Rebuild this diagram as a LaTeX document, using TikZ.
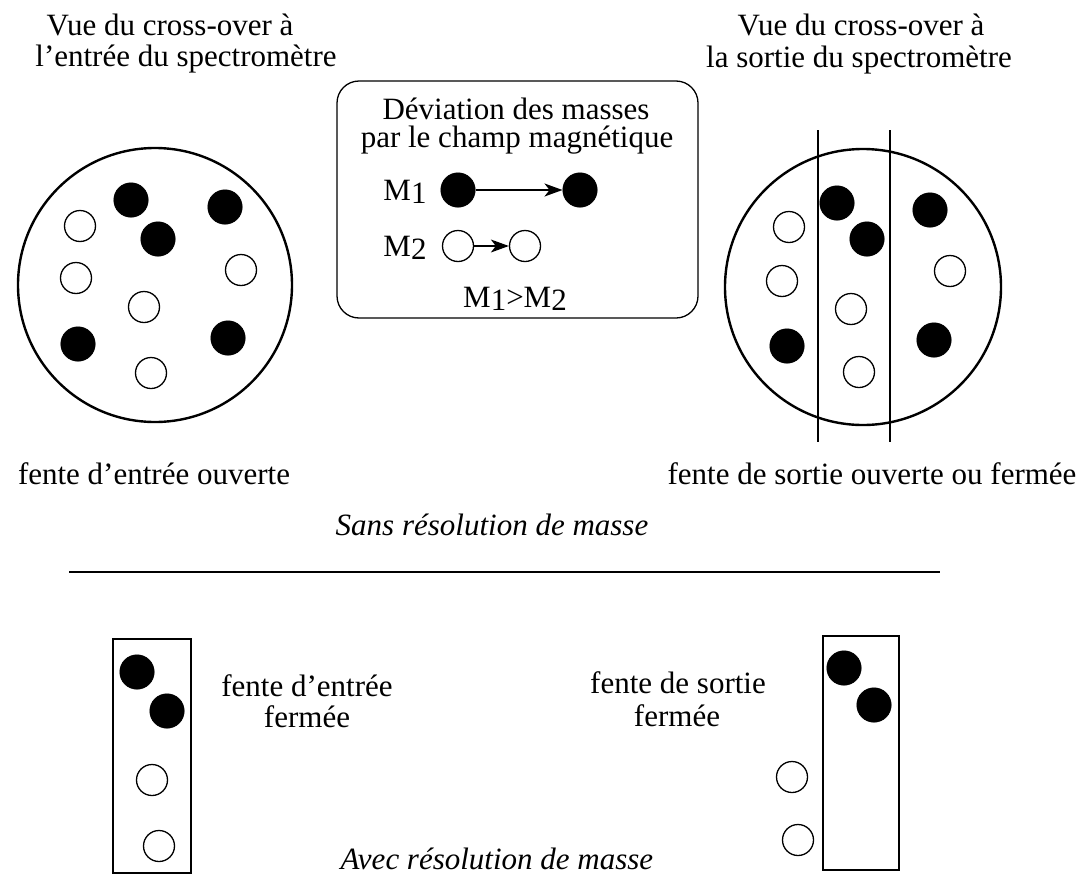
\documentclass[tikz,border=0pt]{standalone}
\usepackage{fontspec}
\setmainfont{Liberation Serif}
\usetikzlibrary{arrows.meta}
\begin{document}
\begin{tikzpicture}[x=1pt,y=-1pt,
  txt/.style={anchor=base,inner sep=0pt,font=\fontsize{31}{30}\selectfont},
  itxt/.style={txt,font=\fontsize{31}{30}\selectfont\itshape},
  fdot/.style={circle,fill=black,draw=black,line width=0.5pt,minimum size=34.5pt,inner sep=0pt},
  odot/.style={circle,draw=black,fill=white,line width=1.3pt,minimum size=31pt,inner sep=0pt},
  bigc/.style={draw=black,line width=2.4pt},
  slit/.style={draw=black,line width=1.2pt},
  arr/.style={draw=black,line width=1.3pt,-{Stealth[length=18pt,width=13pt,inset=5pt]}}]
\useasboundingbox (0,0) rectangle (1082,881);
% headings
\node[txt] (tl1) at (170,35) {Vue du cross-over à};
\node[txt] (tl2) at (186,66) {l’entrée du spectromètre};
\node[txt] (tr1) at (861,35) {Vue du cross-over à};
\node[txt] (tr2) at (859,67) {la sortie du spectromètre};
% left circle
\coordinate (lc) at (155,285);
\draw[bigc] (lc) circle (137pt);
\foreach \n/\x/\y in {a/131/200,b/225/207,c/158/239,d/78/344,e/228/338}
  \node[fdot] (lf\n) at (\x,\y) {};
\foreach \n/\x/\y in {a/80/226,b/76/278,c/241/270,d/144/307,e/151/373}
  \node[odot] (lo\n) at (\x,\y) {};
% right circle
\coordinate (rc) at (863,287);
\draw[bigc] (rc) circle (138pt);
\coordinate (s1t) at (818,130); \coordinate (s1b) at (818,442);
\coordinate (s2t) at (890,130); \coordinate (s2b) at (890,442);
\draw[slit] (s1t) -- (s1b);
\draw[slit] (s2t) -- (s2b);
\foreach \n/\x/\y in {a/837/203,b/867/239,c/930/210,d/787/346,e/934/340}
  \node[fdot] (rf\n) at (\x,\y) {};
\foreach \n/\x/\y in {a/789/227,b/782/281,c/950/271,d/851/309,e/859/372}
  \node[odot] (ro\n) at (\x,\y) {};
% legend box
\draw[line width=1.3pt,rounded corners=22pt] (337,81) rectangle (698,318);
\node[txt] (b1) at (516,119) {Déviation des masses};
\node[txt] (b2) at (517,147) {par le champ magnétique};
\node[txt] (m1) at (405,200) {M\raisebox{-0.28ex}{1}};
\node[txt] (m2) at (405,256) {M\raisebox{-0.28ex}{2}};
\node[fdot] (m1a) at (458,190) {};
\node[fdot] (m1b) at (580,190) {};
\node[odot] (m2a) at (458,246) {};
\node[odot] (m2b) at (525,246) {};
\draw[arr] (m1a) -- (m1b);
\draw[arr] (m2a) -- (m2b);
\node[txt] (mc) at (515,307) {M\raisebox{-0.28ex}{1}>M\raisebox{-0.28ex}{2}};
% captions
\node[txt] (c1) at (154,484) {fente d’entrée ouverte};
\node[txt] (c2) at (872,484) {fente de sortie ouverte ou fermée};
\node[itxt] (c3) at (492,535) {Sans résolution de masse};
\coordinate (h1) at (69,572); \coordinate (h2) at (940,572);
\draw[line width=1.8pt] (h1) -- (h2);
% bottom left slit
\draw[line width=1.3pt] (113,639) rectangle (191,873);
\node[fdot] (blf1) at (137,672) {};
\node[fdot] (blf2) at (167,711) {};
\node[odot] (blo1) at (152,780) {};
\node[odot] (blo2) at (159,846) {};
\node[txt] (bl1) at (307,696) {fente d’entrée};
\node[txt] (bl2) at (307,727) {fermée};
% bottom right slit
\draw[line width=1.3pt] (823,636) rectangle (899,870);
\node[fdot] (brf1) at (844,668) {};
\node[fdot] (brf2) at (874,705) {};
\node[odot] (bro1) at (792,777) {};
\node[odot] (bro2) at (798,840) {};
\node[txt] (br1) at (678,693) {fente de sortie};
\node[txt] (br2) at (677,726) {fermée};
\node[itxt] (c4) at (497,869) {Avec résolution de masse};
\end{tikzpicture}
\end{document}
